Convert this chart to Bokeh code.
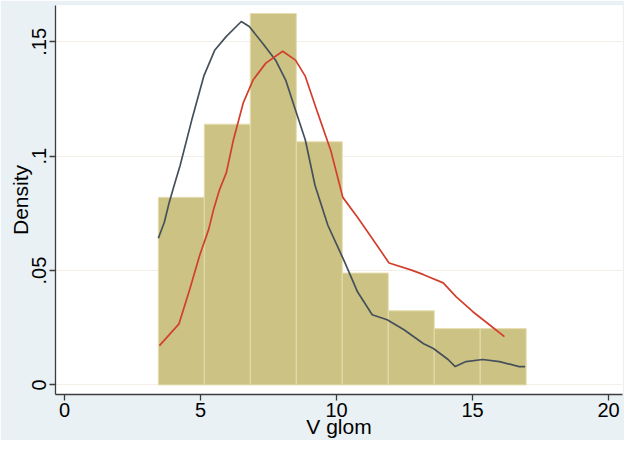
from bokeh.plotting import figure
from bokeh.models import Range1d, FixedTicker
from bokeh.embed import file_html
from bokeh.resources import INLINE

# Histogram of V glom (density scale)
bin_edges = [3.45, 5.14, 6.83, 8.52, 10.21, 11.90, 13.59, 15.28, 16.97]
bin_density = [0.082, 0.114, 0.1624, 0.1063, 0.0489, 0.0324, 0.0246, 0.0246]

# Dark (slate) density curve
slate_x = [3.45, 3.67, 3.85, 4.03, 4.25, 4.68, 5.12, 5.52, 5.95, 6.50, 6.79, 7.29,
           7.76, 8.13, 8.49, 8.85, 9.21, 9.68, 10.30, 10.77, 11.31, 11.86, 12.48,
           13.20, 13.56, 14.10, 14.36, 14.76, 15.37, 15.99, 16.71, 16.93]
slate_y = [0.0641, 0.0711, 0.0798, 0.0872, 0.0959, 0.1159, 0.1350, 0.1463, 0.1524,
           0.1589, 0.1567, 0.1493, 0.1420, 0.1333, 0.1202, 0.1072, 0.0872, 0.0698,
           0.0537, 0.0407, 0.0307, 0.0285, 0.0241, 0.0180, 0.0159, 0.0111, 0.0080,
           0.0102, 0.0111, 0.0102, 0.0080, 0.0080]

# Red density curve
red_x = [3.49, 4.21, 4.61, 4.97, 5.30, 5.48, 5.70, 5.95, 6.21, 6.57, 6.93, 7.40,
         8.02, 8.49, 8.85, 9.32, 9.79, 10.23, 10.77, 11.28, 11.93, 12.73, 13.20,
         13.92, 14.40, 15.01, 15.63, 16.17]
red_y = [0.0172, 0.0267, 0.0420, 0.0567, 0.0680, 0.0767, 0.0854, 0.0928, 0.1072,
         0.1233, 0.1333, 0.1407, 0.1459, 0.1420, 0.1350, 0.1185, 0.1024, 0.0820,
         0.0733, 0.0646, 0.0533, 0.0503, 0.0482, 0.0446, 0.0385, 0.0320, 0.0262,
         0.0211]

x_ticks = [0, 5, 10, 15, 20]
y_ticks = [0, 0.05, 0.1, 0.15]
y_tick_labels = ["0", ".05", ".1", ".15"]

FONT = "Liberation Sans"
BG = "#e9f1f5"

p = figure(width=624, height=440, output_backend="svg", toolbar_location=None,
           x_range=Range1d(-0.33, 20.51), y_range=Range1d(-0.0042, 0.1659),
           min_border_left=55, min_border_right=2, min_border_top=5, min_border_bottom=43)
p.background_fill_color = "white"
p.border_fill_color = BG
p.outline_line_color = None

p.quad(left=bin_edges[:-1], right=bin_edges[1:], bottom=0, top=bin_density,
       fill_color="#cbc283", line_color="#e4dcac", line_width=1)
p.line(slate_x, slate_y, line_color="#46505a", line_width=1.7)
p.line(red_x, red_y, line_color="#d23f2c", line_width=1.7)

p.xgrid.visible = False
p.ygrid.grid_line_color = "#f4eee9"
p.ygrid.ticker = FixedTicker(ticks=y_ticks)

p.xaxis.ticker = FixedTicker(ticks=x_ticks)
p.yaxis.ticker = FixedTicker(ticks=y_ticks)
p.yaxis.major_label_overrides = {t: s for t, s in zip(y_ticks, y_tick_labels)}
p.yaxis.major_label_orientation = "vertical"

for ax in (p.xaxis[0], p.yaxis[0]):
    ax.axis_line_color = "#3c3c3c"
    ax.axis_line_width = 1.3
    ax.major_tick_line_color = "#3c3c3c"
    ax.major_tick_line_width = 1.3
    ax.major_tick_out = 6
    ax.major_tick_in = 0
    ax.minor_tick_line_color = None
    ax.major_label_text_font = FONT
    ax.major_label_text_font_size = "20px"
    ax.major_label_text_color = "black"
    ax.axis_label_text_font = FONT
    ax.axis_label_text_font_size = "21px"
    ax.axis_label_text_font_style = "normal"
    ax.axis_label_text_color = "black"

p.xaxis.axis_label = "V glom"
p.yaxis.axis_label = "Density"
p.xaxis.major_label_standoff = 2
p.xaxis.axis_label_standoff = -5
p.yaxis.major_label_standoff = 3
p.yaxis.axis_label_standoff = -2

open("out.html", "w").write(file_html(p, INLINE))
